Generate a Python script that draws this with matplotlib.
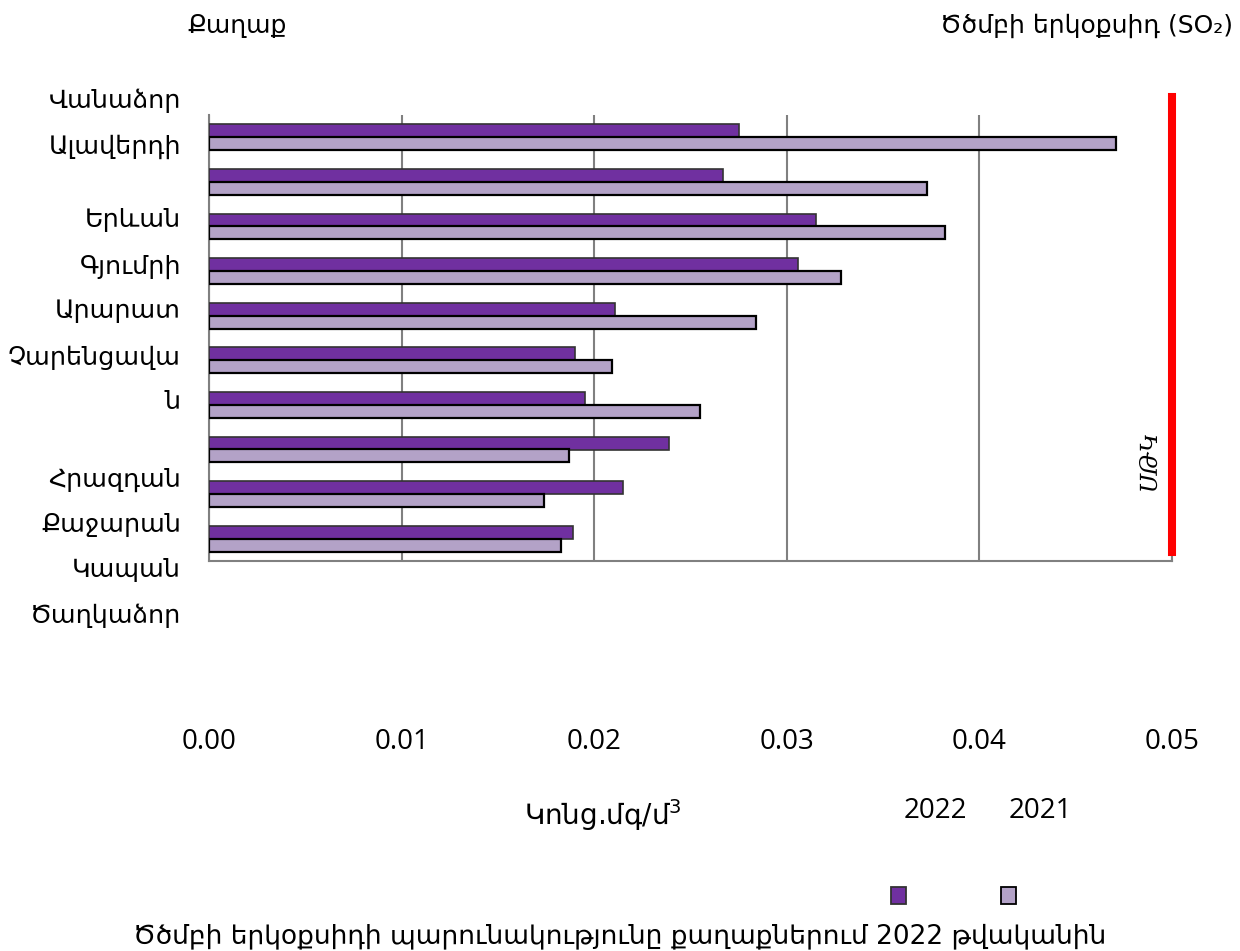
import numpy as np
import matplotlib.pyplot as plt
from matplotlib.patches import Rectangle

plt.rcParams['font.family'] = ['DejaVu Sans']

# data (mg/m3)
cities = ['Վանաձոր', 'Ալավերդի', 'Երևան', 'Գյումրի', 'Արարատ',
          'Չարենցավան', 'Հրազդան', 'Քաջարան', 'Կապան', 'Ծաղկաձոր']
so2_2022 = [0.0275, 0.0267, 0.0315, 0.0306, 0.0211, 0.0190, 0.0195, 0.0239, 0.0215, 0.0189]
so2_2021 = [0.0471, 0.0373, 0.0382, 0.0328, 0.0284, 0.0209, 0.0255, 0.0187, 0.0174, 0.0183]
x_ticks = [0.00, 0.01, 0.02, 0.03, 0.04, 0.05]
limit = 0.05  # MAC line
years = ['2022', '2021']

# the city names in the source are laid out as loose text lines, not aligned to bars
label_lines = ['Վանաձոր', 'Ալավերդի', 'Երևան', 'Գյումրի', 'Արարատ',
               'Չարենցավա', 'ն', 'Հրազդան', 'Քաջարան', 'Կապան', 'Ծաղկաձոր']
label_y = [101, 147, 220, 267, 311, 358, 402, 480, 525, 570, 616]

W, H = 1240, 951
fig = plt.figure(figsize=(W / 100, H / 100), dpi=100)
ax = fig.add_axes([209 / W, 1 - 561 / H, (1172 - 209) / W, (561 - 115) / H])

dark, light = '#7030A0', '#B3A2C7'
y = np.arange(len(cities))
h = 0.29
ax.barh(y - h / 2, so2_2022, height=h, color=dark, edgecolor='#333333', linewidth=1.2, zorder=3)
ax.barh(y + h / 2, so2_2021, height=h, color=light, edgecolor='black', linewidth=1.6, zorder=3)

ax.set_xlim(0, 0.05)
ax.set_ylim(len(cities) - 0.5, -0.5)
ax.set_xticks(x_ticks)
ax.set_xticklabels([f'{t:.2f}' for t in x_ticks], family=['Open Sans', 'DejaVu Sans'], fontsize=20)
ax.set_yticks([])
ax.tick_params(axis='x', length=0, pad=120)
ax.xaxis.grid(True, color='#808080', linewidth=1.5)
ax.set_axisbelow(True)
ax.spines['top'].set_visible(False)
for s in ['left', 'bottom', 'right']:
    ax.spines[s].set_color('#808080')
    ax.spines[s].set_linewidth(1.5)

# MAC limit line
ax.axvline(limit, ymin=(561 - 552) / 446, ymax=(561 - 97) / 446, color='#FF0000',
           linewidth=5.8, clip_on=False, zorder=5)
fig.text(1149 / W, 1 - 460 / H, 'ՍԹԿ', rotation=90, style='italic', family='DejaVu Serif',
         fontsize=17, ha='center', va='center')

for txt, yy in zip(label_lines, label_y):
    fig.text(181 / W, 1 - yy / H, txt, ha='right', va='center', fontsize=18.3)

fig.text(237 / W, 1 - 26 / H, 'Քաղաք', ha='center', va='center', fontsize=18)
fig.text(1233 / W, 1 - 26 / H, 'Ծծմբի երկօքսիդ (SO₂)', ha='right', va='center', fontsize=18)
fig.text(603 / W, 1 - 815 / H, 'Կոնց.մգ/մ$^3$', ha='center', va='center', fontsize=20)

# legend: year labels above the swatches
for yr, col, ec, xt, xs in zip(years, [dark, light], ['#333333', 'black'], [935, 1040], [898, 1008]):
    fig.text(xt / W, 1 - 811 / H, yr, ha='center', va='center', fontsize=20,
             family=['Open Sans', 'DejaVu Sans'])
    fig.patches.append(Rectangle(((xs - 7.5) / W, 1 - 904 / H), 15 / W, 17 / H,
                                 facecolor=col, edgecolor=ec, linewidth=1.3,
                                 transform=fig.transFigure))

fig.text(620 / W, 1 - 936 / H, 'Ծծմբի երկօքսիդի պարունակությունը քաղաքներում 2022 թվականին',
         ha='center', va='center', fontsize=19)

fig.savefig('out.png', dpi=100)
